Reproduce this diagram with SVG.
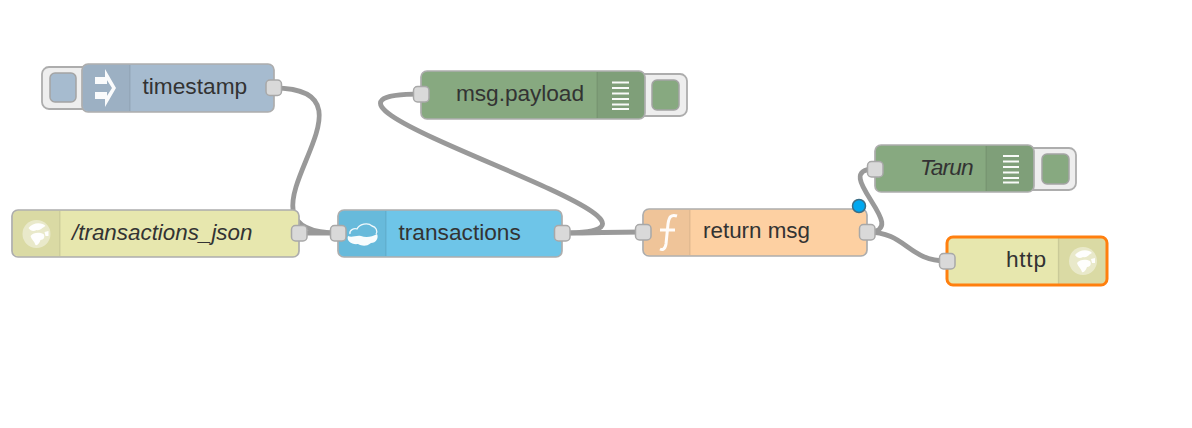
<svg xmlns="http://www.w3.org/2000/svg" width="1192" height="428" viewBox="0 0 1192 428">
<style>
text{font-family:"Liberation Sans",Arial,sans-serif;font-size:22.7px;fill:#333}
.i{font-style:italic}
.n{stroke:#adadad;stroke-width:1.700}
.sec{fill:#000;fill-opacity:.055;stroke:none}
.sep{stroke:#000;stroke-opacity:.07;stroke-width:1.500}
.btn{fill:#eee;stroke:#adadad;stroke-width:1.800}
.in{stroke:#a4a4a4;stroke-width:1.500}
.p{fill:#d9d9d9;stroke:#a8a8a8;stroke-width:1.500}
.w{fill:none;stroke:#999;stroke-width:4.800;stroke-linecap:round}
.ic{fill:#fff;fill-opacity:.95;stroke:none}
.gl{fill:#fff;fill-opacity:.42;stroke:none}
.l{stroke:#fff;stroke-width:1.800;stroke-opacity:.95}
</style>
<defs>
<g id="globe">
<circle class="gl" r="14"/>
<path class="ic" fill-opacity=".8" d="M-8,-6C-4,-12 6,-12 9,-8C5,-6 4,-3 0,-4C-3,-2 -6,-3 -8,-6zM-6,2C-3,-2 3,-2 7,0C9,3 7,6 4,6C3,9 1,12 -1,11C-2,7 -5,6 -6,2zM8,-2L12,-3L12,2L9,2z"/>
</g>
</defs>
<rect width="1192" height="428" fill="#fff"/>
<g id="connectors">
<path class="w" d="M274,88C398,88 214,233 338,233"/>
<path class="w" d="M299,233C318,233 319,233 338,233"/>
<path class="w" d="M562,233C745,233 238,94 421,94"/>
<path class="w" d="M562,233C602,233 603,232 643,232"/>
<path class="w" d="M867,232C915,232 827,169 875,169"/>
<path class="w" d="M867,232C907,232 907,261 947,261"/>
</g>
<g id="timestamp">
<rect class="btn" x="42" y="67" width="50" height="42" rx="7"/>
<rect class="in" x="50" y="73" width="26" height="29" rx="5" fill="#a6bbcf"/>
<rect class="n" x="82" y="64" width="192" height="48" rx="6" fill="#a6bbcf"/>
<path class="sec" d="M88,65H130V111H88a5,5 0 0 1 -5,-5V70a5,5 0 0 1 5,-5z"/>
<path class="sep" d="M130,65V111"/>
<path class="ic" d="M95,77H107V84H95zM95,92H107V99H95zM105,69L116,88L105,107V99L112,88L105,77z"/>
<text x="142.500" y="94">timestamp</text>
<rect class="p" x="266" y="80" width="15.500" height="15.500" rx="4"/>
</g>
<g id="transactions_json">
<rect class="n" x="12" y="210" width="287" height="47" rx="6" fill="#e7e7ae"/>
<path class="sec" d="M18,211H60V256H18a5,5 0 0 1 -5,-5V216a5,5 0 0 1 5,-5z"/>
<path class="sep" d="M60,211V256"/>
<use href="#globe" x="36.500" y="234"/>
<text class="i" x="72" y="240" style="font-size:22.4px">/transactions_json</text>
<rect class="p" x="291.500" y="225.500" width="15.500" height="15.500" rx="4"/>
</g>
<g id="transactions">
<rect class="n" x="338" y="210" width="224" height="47" rx="6" fill="#6ec5e8"/>
<path class="sec" d="M344,211H386V256H344a5,5 0 0 1 -5,-5V216a5,5 0 0 1 5,-5z"/>
<path class="sep" d="M386,211V256"/>
<path d="M350,234C349,230 354,228 357,229C359,224 368,222 372,226C376,227 378,231 376,234" fill="none" stroke="#fff" stroke-width="1.300" stroke-opacity=".9"/>
<path class="ic" d="M348,236C352,238 356,235 361,236C366,238 372,237 377,234C379,238 376,243 371,243C366,247 362,246 358,244C352,245 346,241 348,236z"/>
<text x="398.500" y="240">transactions</text>
<rect class="p" x="330.500" y="225.500" width="15.500" height="15.500" rx="4"/>
<rect class="p" x="554.500" y="225.500" width="15.500" height="15.500" rx="4"/>
</g>
<g id="msg_payload">
<rect class="btn" x="635" y="74" width="52" height="42" rx="7"/>
<rect class="in" x="652" y="80" width="27" height="30" rx="5" fill="#87a980"/>
<rect class="n" x="421" y="71" width="224" height="48" rx="6" fill="#87a980"/>
<path class="sec" d="M597,72H639a5,5 0 0 1 5,5V113a5,5 0 0 1 -5,5H597z"/>
<path class="sep" d="M597,72V118"/>
<path class="l" d="M612,82.500H629M612,88H629M612,93.500H629M612,99H629M612,104.500H629M612,109H629"/>
<text x="456" y="101" textLength="128" lengthAdjust="spacing">msg.payload</text>
<rect class="p" x="413.500" y="86.500" width="15.500" height="15.500" rx="4"/>
</g>
<g id="return_msg">
<rect class="n" x="643" y="209" width="224" height="47" rx="6" fill="#fdd0a2"/>
<path class="sec" d="M649,210H690V255H649a5,5 0 0 1 -5,-5V215a5,5 0 0 1 5,-5z"/>
<path class="sep" d="M690,210V255"/>
<path d="M677,216C671,214 669,217 668,224L666,244C665,250 662,250 660,249M660,230H675" fill="none" stroke="#fff" stroke-width="3" stroke-opacity=".95"/>
<text x="703" y="238" style="font-size:22.4px">return msg</text>
<circle cx="859" cy="206" r="6.500" fill="#00a8f0" stroke="#3d6d85" stroke-width="1.500"/>
<rect class="p" x="635.500" y="224.500" width="15.500" height="15.500" rx="4"/>
<rect class="p" x="859.500" y="224.500" width="15.500" height="15.500" rx="4"/>
</g>
<g id="tarun">
<rect class="btn" x="1024" y="148" width="52" height="42" rx="7"/>
<rect class="in" x="1042" y="154" width="27" height="30" rx="5" fill="#87a980"/>
<rect class="n" x="875" y="145" width="159" height="47" rx="6" fill="#87a980"/>
<path class="sec" d="M986,146H1028a5,5 0 0 1 5,5V186a5,5 0 0 1 -5,5H986z"/>
<path class="sep" d="M986,146V191"/>
<path class="l" d="M1003,156H1019M1003,161.500H1019M1003,167H1019M1003,172.500H1019M1003,178H1019M1003,182.500H1019"/>
<text class="i" x="920" y="175" textLength="53.500" lengthAdjust="spacing">Tarun</text>
<rect class="p" x="867.500" y="161.500" width="15.500" height="15.500" rx="4"/>
</g>
<g id="http">
<rect x="947" y="237" width="160" height="48" rx="6" fill="#e7e7ae" stroke="#ff7f0e" stroke-width="3"/>
<path class="sec" d="M1058,238.500H1100a5,5 0 0 1 5.500,5V278a5,5 0 0 1 -5.500,5.500H1058z"/>
<path class="sep" d="M1058.500,238.500V283.500"/>
<use href="#globe" x="1083" y="261"/>
<text x="1006" y="267" textLength="40" lengthAdjust="spacing">http</text>
<rect class="p" x="939.500" y="253.500" width="15.500" height="15.500" rx="4"/>
</g>
</svg>
